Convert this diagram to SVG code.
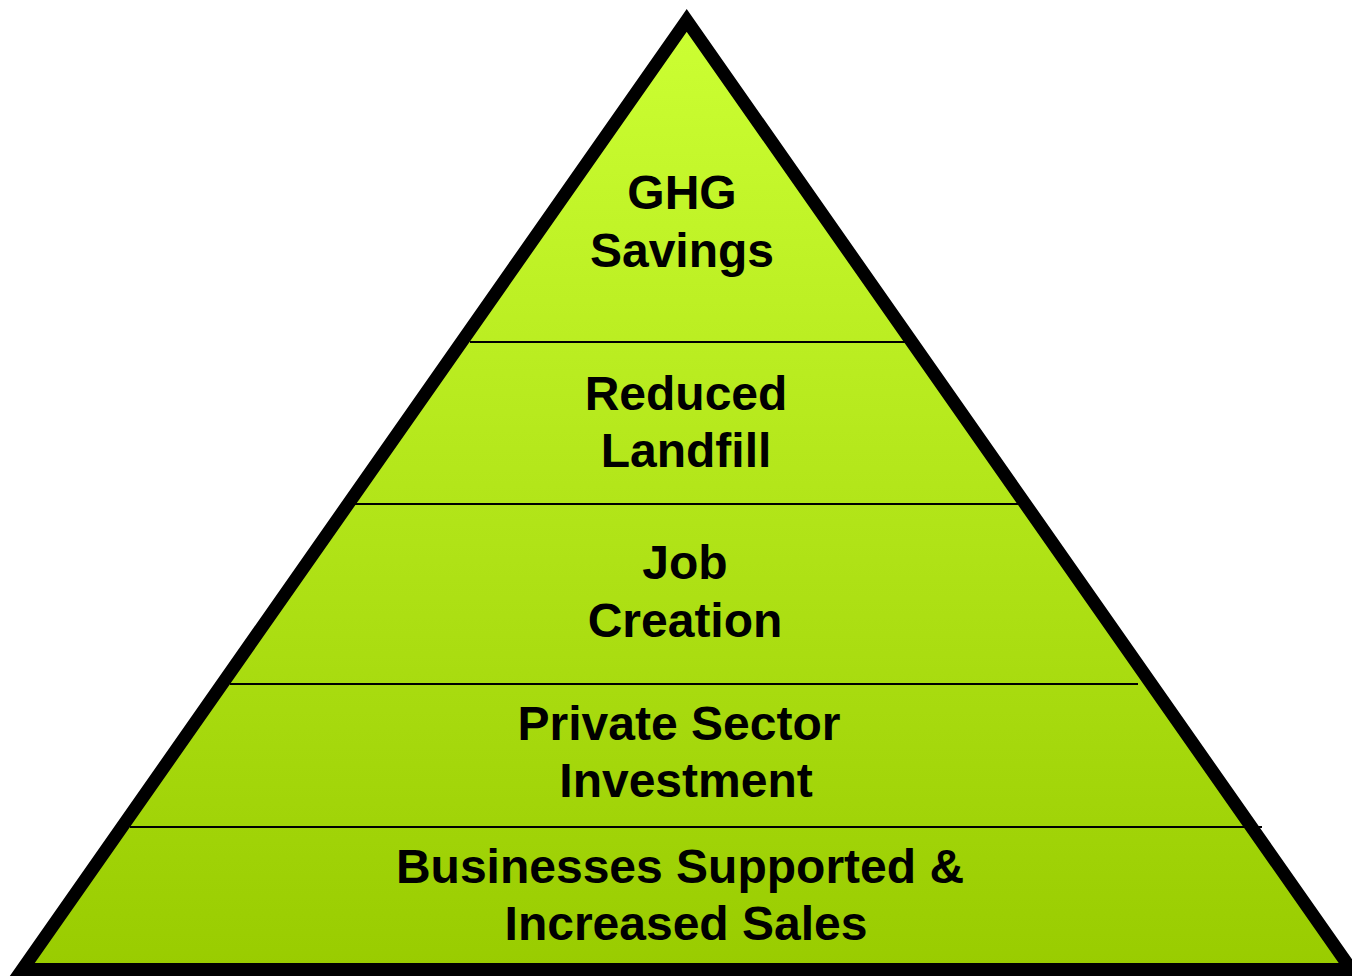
<svg xmlns="http://www.w3.org/2000/svg" width="1352" height="976" viewBox="0 0 1352 976">
<defs>
<linearGradient id="g" gradientUnits="userSpaceOnUse" x1="0" y1="20" x2="0" y2="970">
<stop offset="0" stop-color="#CCFF33"/>
<stop offset="1" stop-color="#99CC00"/>
</linearGradient>
<style>
.t{font-family:"Liberation Sans",Arial,sans-serif;font-weight:bold;font-size:48px;fill:#000;text-anchor:middle}
.d{stroke:#000;stroke-width:2;fill:none}
</style>
</defs>
<rect width="1352" height="976" fill="#fff"/>
<g id="pyramid">
<path d="M686.7,20.4 L22.3,969.5 L1351.2,969.5 Z" fill="url(#g)" stroke="#000" stroke-width="13" stroke-linejoin="miter"/>
</g>
<g id="dividers">
<line class="d" x1="470" y1="342" x2="905" y2="342"/>
<line class="d" x1="355" y1="504" x2="1020" y2="504"/>
<line class="d" x1="230" y1="684" x2="1138" y2="684"/>
<line class="d" x1="130" y1="827" x2="1262" y2="827"/>
</g>
<g id="tier1"><text class="t" x="682" y="209">GHG</text><text class="t" x="682" y="267">Savings</text></g>
<g id="tier2"><text class="t" x="686" y="410">Reduced</text><text class="t" x="686" y="467">Landfill</text></g>
<g id="tier3"><text class="t" x="685" y="579">Job</text><text class="t" x="685" y="637">Creation</text></g>
<g id="tier4"><text class="t" x="679" y="740">Private Sector</text><text class="t" x="686" y="797">Investment</text></g>
<g id="tier5"><text class="t" x="680" y="883">Businesses Supported &amp;</text><text class="t" x="686" y="940">Increased Sales</text></g>
</svg>
